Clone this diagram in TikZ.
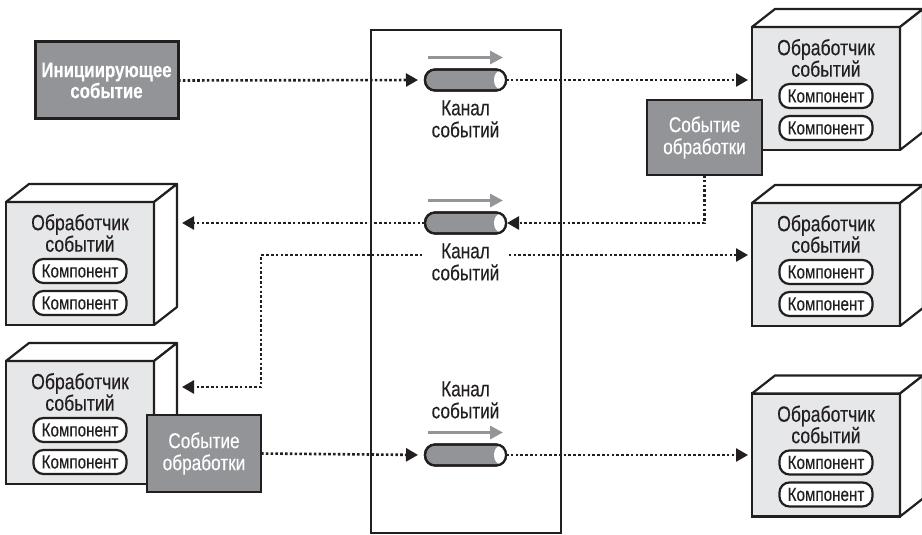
\documentclass[tikz,border=0pt]{standalone}
\usepackage{fontspec}
\setmainfont[FakeStretch=0.8,FakeBold=0.3]{Liberation Sans}
\usetikzlibrary{arrows.meta,calc}
\definecolor{ink}{HTML}{231F20}
\definecolor{boxfill}{HTML}{E6E7E8}
\definecolor{evfill}{HTML}{929497}
\definecolor{arrowgray}{HTML}{939598}
\newcommand\procbox[3]{%
  \node[front] (#1) at (#2,#3) {};
  \draw[face] (#1.north west) -- ++(23,-18) -- ++(148,0) -- (#1.north east) -- cycle;
  \draw[face] (#1.north east) -- ++(23,-18) -- ++(0,123) -- (#1.south east) -- cycle;
  \node[title] (#1t) at ($(#1.north)+(0,31)$) {Обработчик\\событий};
  \node[comp] (#1a) at ($(#1.north)+(0,69)$) {Компонент};
  \node[comp] (#1b) at ($(#1.north)+(0,101)$) {Компонент};
}
\newcommand\chanpipe[3]{%
  \node[chan] (#1) at (#2,#3) {};
  \fill[white] ($(#1.east)+(-6,0)$) ellipse [x radius=6pt, y radius=9pt];
  \draw[draw=ink, line width=2.2pt, rounded corners=10pt] (#1.south west) rectangle (#1.north east);
  \draw[dirarrow] ($(#1.north west)+(3,-12)$) -- ($(#1.north east)+(-3,-12)$);
}
\begin{document}
\begin{tikzpicture}[x=1pt,y=-1pt,
  font=\fontsize{21.5}{22}\selectfont,
  front/.style={draw=ink, line width=2.2pt, fill=boxfill, minimum width=148pt, minimum height=123pt, inner sep=0pt, outer sep=0pt},
  face/.style={draw=ink, line width=2.2pt, fill=white, line join=round},
  title/.style={align=center, text=ink, font=\fontsize{22}{21.5}\selectfont, inner sep=0pt},
  comp/.style={draw=ink, line width=2.2pt, fill=white, rounded corners=10pt, minimum width=93pt, minimum height=24pt, inner sep=0pt, outer sep=0pt, text=ink, font=\fontsize{19}{19}\selectfont},
  evbox/.style={draw=ink, line width=2.4pt, fill=evfill, text=white, align=center, inner sep=0pt, outer sep=0pt, minimum width=114pt, minimum height=76pt},
  chan/.style={draw=ink, line width=2.2pt, fill=evfill, rounded corners=10pt, minimum width=81pt, minimum height=21pt, inner sep=0pt, outer sep=0pt},
  chlabel/.style={align=center, text=ink, fill=white, inner xsep=10pt, inner ysep=2pt},
  flow/.style={draw=ink, line width=2.6pt, dash pattern=on 2.6pt off 2.2pt, -{Triangle[length=12pt,width=13pt]}},
  dirarrow/.style={draw=arrowgray, line width=3pt, -{Triangle[length=13pt,width=13pt]}},
]
\useasboundingbox (0,0) rectangle (922,535);

% central bus
\node[draw=ink, line width=2.2pt, minimum width=190pt, minimum height=503pt, inner sep=0pt, outer sep=0pt] (bus) at (466,281.5) {};

% processors
\procbox{r1}{826}{88.5}
\procbox{r2}{826}{264.5}
\procbox{r3}{826}{455}
\procbox{l2}{80}{263.5}
\procbox{l3}{80}{422.5}

% initiating event
\node[evbox, line width=3pt, minimum width=143pt, minimum height=77pt, font=\fontsize{21}{21}\selectfont\bfseries] (init) at (106.5,80.5) {Инициирующее\\событие};

% processing events
\node[evbox, minimum width=115pt, minimum height=75pt] (ev1) at (704.5,137.5) {Событие\\обработки};
\node[evbox, minimum width=114pt, minimum height=77pt] (ev2) at (204,453.5) {Событие\\обработки};

% channels
\chanpipe{c1}{465.5}{80}
\chanpipe{c2}{465.5}{223}
\chanpipe{c3}{465.5}{455}

% connectors
\coordinate (j2) at (465.5,255);
\coordinate (bend) at (261,387);
\coordinate (l2tip) at ($(l2.east)+(28,0)$);
\coordinate (l3tip) at ($(l3.east)+(28,0)$);
\draw[flow, shorten >=7pt] (init.east) -- (c1.west);
\draw[flow, shorten >=4pt] (c1.east) -- (c1.east -| r1.west);
\draw[flow, shorten >=1pt] (ev1.south) |- (c2.east);
\draw[flow] (c2.west) -- (c2.west -| l2tip);
\draw[flow, shorten >=4pt] (j2) -- (j2 -| r2.west);
\draw[flow] (j2) -| (bend) -- (bend -| l3tip);
\draw[flow, shorten >=7pt] (ev2.east) -- (c3.west);
\draw[flow, shorten >=4pt] (c3.east) -- (c3.east -| r3.west);

% channel labels
\node[chlabel] (lab1) at (465.5,119) {Канал\\событий};
\node[chlabel] (lab2) at (465.5,262) {Канал\\событий};
\node[chlabel] (lab3) at (465.5,400) {Канал\\событий};
\end{tikzpicture}
\end{document}
